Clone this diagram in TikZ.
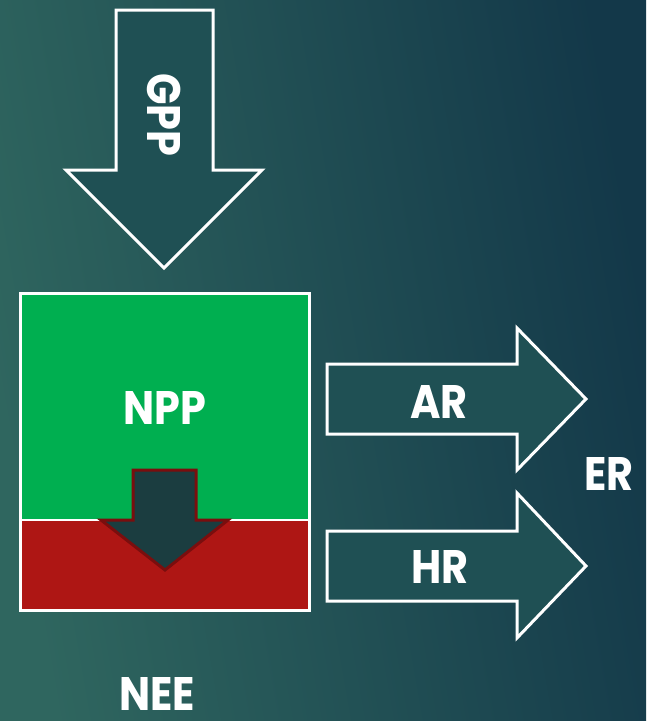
\documentclass[tikz,border=0pt]{standalone}
\usepackage{fontspec}
\setmainfont{Poppins}
\definecolor{bgL}{HTML}{2F665F}
\definecolor{bgR}{HTML}{133849}
\definecolor{arrowfill}{HTML}{1F5054}
\definecolor{nppgreen}{HTML}{00AF50}
\definecolor{neered}{HTML}{AE1614}
\definecolor{smallfill}{HTML}{1B3D40}
\definecolor{smalledge}{HTML}{7A0E0E}
\newcommand{\lbltext}[1]{\scalebox{0.88}[1]{#1}}
\begin{document}
\begin{tikzpicture}[x=1pt,y=-1pt,
  lbl/.style={text=white,font=\bfseries\fontsize{47}{47}\selectfont,inner sep=0pt},
  bigarrow/.style={draw=white,line width=3pt,fill=arrowfill,line join=miter}]
\useasboundingbox (0,0) rectangle (646,721);
\shade[left color=bgL,right color=bgR,shading angle=100] (0,0) rectangle (646,721);
% GPP arrow
\draw[bigarrow] (116,10) -- (213,10) -- (213,170) -- (262,170) -- (164,268) -- (66,170) -- (116,170) -- cycle;
\node[lbl,rotate=-90] (gpp) at (164,115) {\lbltext{GPP}};
% NPP / NEE box
\fill[nppgreen] (20,293) rectangle (309,520);
\fill[neered] (20,520) rectangle (309,610);
\draw[white,line width=2pt] (20,520) -- (309,520);
\draw[white,line width=3pt] (20,293) rectangle (309,610);
\node[lbl] (npp) at (165,408) {\lbltext{NPP}};
% small arrow
\draw[fill=smallfill,draw=smalledge,line width=3pt,line join=miter] (133,470) -- (196,470) -- (196,520) -- (228,520) -- (165,570) -- (101,520) -- (133,520) -- cycle;
% AR arrow
\draw[bigarrow] (327,364) -- (517,364) -- (517,328) -- (586,399) -- (517,470) -- (517,434) -- (327,434) -- cycle;
\node[lbl] (ar) at (439,402) {\lbltext{AR}};
% HR arrow
\draw[bigarrow] (327,531) -- (517,531) -- (517,493) -- (586,566) -- (517,638) -- (517,601) -- (327,601) -- cycle;
\node[lbl] (hr) at (440,567) {\lbltext{HR}};
\node[lbl] (er) at (609,474) {\lbltext{ER}};
\node[lbl] (nee) at (157,694) {\lbltext{NEE}};
\end{tikzpicture}
\end{document}
